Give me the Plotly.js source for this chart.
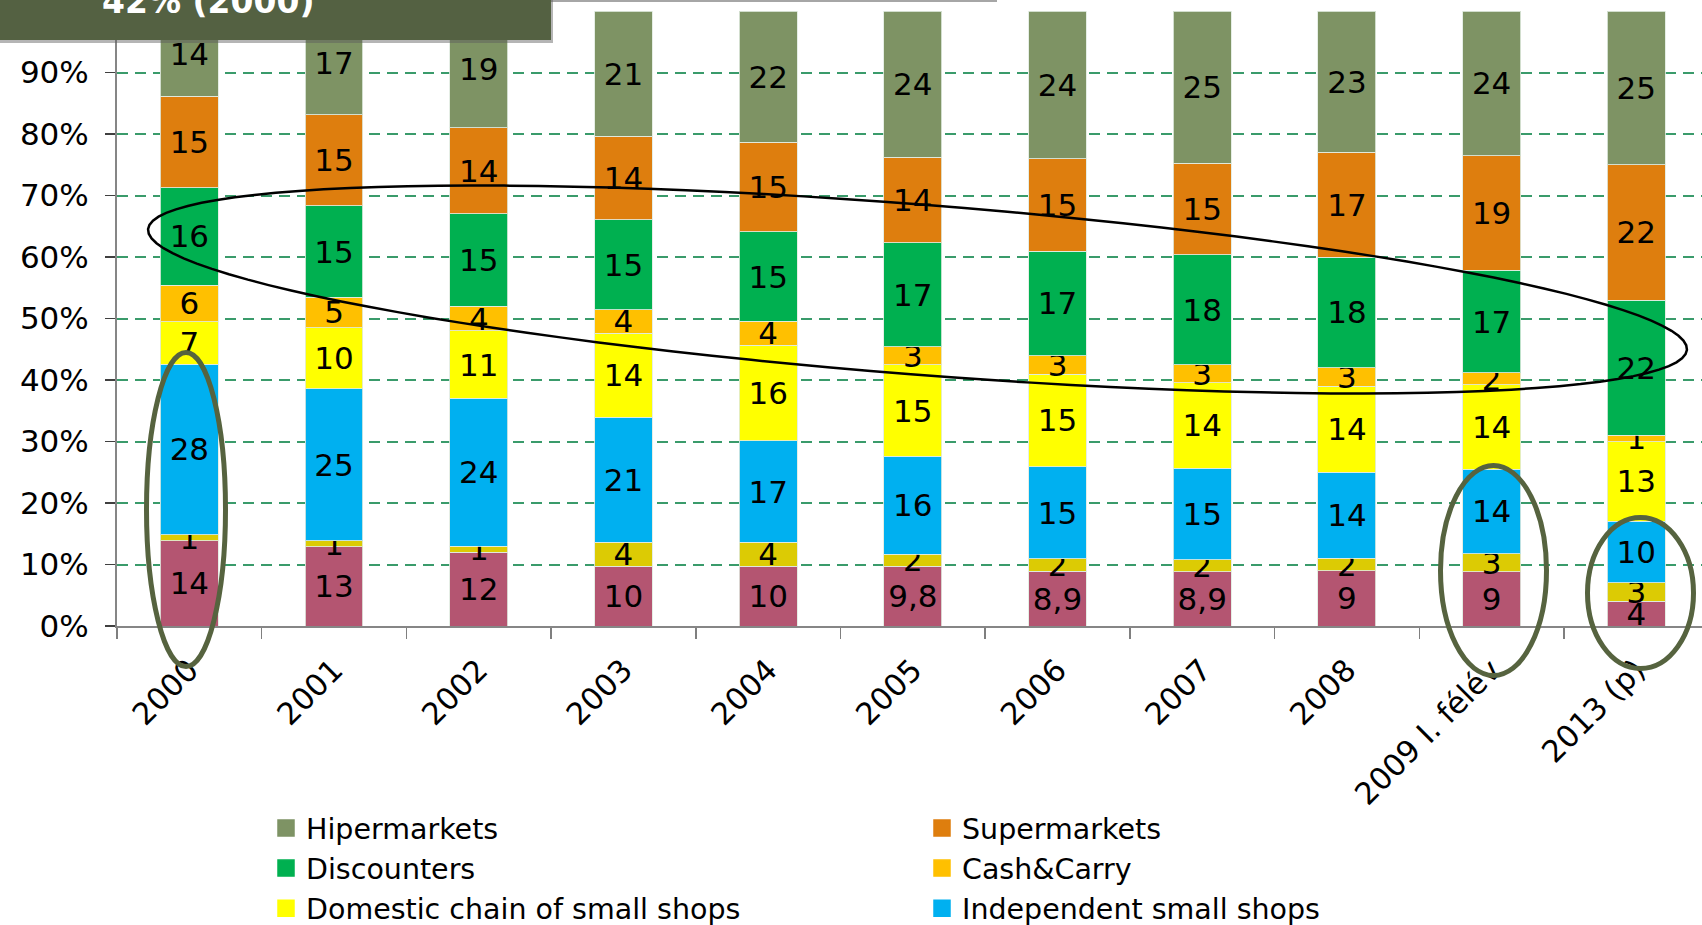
<!DOCTYPE html>
<html>
<head>
<meta charset="utf-8">
<script src="https://cdn.plot.ly/plotly-3.0.1.min.js"></script>
<style>
  html, body { margin: 0; padding: 0; background: #ffffff; overflow: hidden; }
  #chart { width: 1702px; height: 925px; }
</style>
</head>
<body>
<div id="chart"></div>
<script>
// ---- data ----
const categories = ['2000', '2001', '2002', '2003', '2004', '2005', '2006', '2007', '2008', '2009 I. félév', '2013 (p)'];
const otherShops   = [14, 13, 12, 10, 10, 9.8, 8.9, 8.9, 9, 9, 4];      // maroon (bottom)
const drugstores   = [1, 1, 1, 4, 4, 2, 2, 2, 2, 3, 3];                 // dark yellow
const independent  = [28, 25, 24, 21, 17, 16, 15, 15, 14, 14, 10];
const domestic     = [7, 10, 11, 14, 16, 15, 15, 14, 14, 14, 13];
const cashCarry    = [6, 5, 4, 4, 4, 3, 3, 3, 3, 2, 1];
const discounters  = [16, 15, 15, 15, 15, 17, 17, 18, 18, 17, 22];
const supermarkets = [15, 15, 14, 14, 15, 14, 15, 15, 17, 19, 22];
const hipermarkets = [14, 17, 19, 21, 22, 24, 24, 25, 23, 24, 25];
const yTickVals = [0, 10, 20, 30, 40, 50, 60, 70, 80, 90, 100];

// ---- styling ----
const FONT = '"DejaVu Sans", Lato, sans-serif';
const L = 117, R = 1702, T = 11, B = 626;
const W = R - L, H = B - T;
const px = x => (x - L) / W;
const py = y => (B - y) / H;

const fmt = v => String(v).replace('.', ',');

// series definitions: name, values, colour, legend column, shown in the visible legend
const series = [
  ['Other', otherShops, '#B45571', 'legend2', false],
  ['Drugstores', drugstores, '#DCCB04', 'legend', false],
  ['Independent small shops', independent, '#00B0F0', 'legend2', true],
  ['Domestic chain of small shops', domestic, '#FFFF00', 'legend', true],
  ['Cash&Carry', cashCarry, '#FFC000', 'legend2', true],
  ['Discounters', discounters, '#00B050', 'legend', true],
  ['Supermarkets', supermarkets, '#DE7E0E', 'legend2', true],
  ['Hipermarkets', hipermarkets, '#7E9364', 'legend', true]
];

const bars = series.map(([name, values, color]) => ({
  type: 'bar',
  name: name,
  x: categories,
  y: values,
  text: values.map(fmt),
  textposition: 'inside',
  insidetextanchor: 'middle',
  textangle: 0,
  constraintext: 'none',
  textfont: { family: FONT, size: 31, color: '#000000' },
  insidetextfont: { family: FONT, size: 31, color: '#000000' },
  marker: { color: color, line: { color: 'rgba(225,235,225,0.85)', width: 1 } },
  showlegend: false,
  hoverinfo: 'x+y+name'
}));

// legend entries (larger square keys, like the reference)
const keys = series.filter(s => s[4]).map(([name, values, color, legendId]) => ({
  type: 'scatter',
  mode: 'markers',
  name: name,
  x: [null],
  y: [null],
  marker: { symbol: 'square', size: 16, color: color, line: { color: color, width: 1.5 } },
  legend: legendId,
  showlegend: true,
  hoverinfo: 'skip'
}));

const data = bars.concat(keys);

// tilted black ellipse around the middle band
function ellipsePath(cx, cy, a, b, deg) {
  const th = deg * Math.PI / 180;
  let d = '';
  for (let i = 0; i <= 120; i++) {
    const t = i / 120 * 2 * Math.PI;
    const X = cx + a * Math.cos(t) * Math.cos(th) - b * Math.sin(t) * Math.sin(th);
    const Y = cy + a * Math.cos(t) * Math.sin(th) + b * Math.sin(t) * Math.cos(th);
    d += (i === 0 ? 'M' : 'L') + px(X).toFixed(5) + ',' + py(Y).toFixed(5);
  }
  return d + 'Z';
}

const olive = '#56633F';
function ring(x0, x1, y0, y1) {
  return { type: 'circle', xref: 'paper', yref: 'paper', layer: 'above',
    x0: px(x0), x1: px(x1), y0: py(y1), y1: py(y0),
    line: { color: olive, width: 5 }, fillcolor: 'rgba(0,0,0,0)' };
}

const shapes = [
  ring(146.5, 225.5, 352.5, 666.5),
  ring(1440.5, 1546.5, 465.5, 675.5),
  ring(1587.5, 1693.5, 517.5, 668.5),
  { type: 'path', xref: 'paper', yref: 'paper', layer: 'above',
    path: ellipsePath(917.5, 289.5, 771.8, 85, 4.48),
    line: { color: '#000000', width: 2.5 } },
  // thin gray line at the top edge
  { type: 'line', xref: 'paper', yref: 'paper', layer: 'above',
    x0: px(548), x1: px(997), y0: py(1), y1: py(1),
    line: { color: '#A6A6A6', width: 2 } },
  // title box shadow + box
  { type: 'rect', xref: 'paper', yref: 'paper', layer: 'above',
    x0: px(-5), x1: px(553), y0: py(43), y1: py(-5),
    fillcolor: 'rgba(90,90,90,0.45)', line: { width: 0 } },
  { type: 'rect', xref: 'paper', yref: 'paper', layer: 'above',
    x0: px(-5), x1: px(551), y0: py(40), y1: py(-5),
    fillcolor: '#546142', line: { width: 0 } }
];

const annotations = [
  { xref: 'paper', yref: 'paper', x: px(208), y: py(2), xanchor: 'center', yanchor: 'middle',
    text: '<b>42% (2000)</b>', showarrow: false,
    font: { family: FONT, size: 33, color: '#FFFFFF' } }
];

const legendCommon = {
  orientation: 'v',
  traceorder: 'reversed',
  xref: 'paper', yref: 'paper',
  xanchor: 'left', yanchor: 'top',
  bgcolor: 'rgba(0,0,0,0)',
  borderwidth: 0,
  itemsizing: 'trace',
  font: { family: FONT, size: 28.5, color: '#000000' },
  tracegroupgap: 0
};

const layout = {
  width: 1702,
  height: 925,
  margin: { l: L, r: 0, t: T, b: 925 - B, autoexpand: false },
  paper_bgcolor: '#FFFFFF',
  plot_bgcolor: '#FFFFFF',
  barmode: 'stack',
  barnorm: 'percent',
  bargap: 0.6,
  showlegend: true,
  uniformtext: { mode: 'show', minsize: 31 },
  font: { family: FONT, size: 30, color: '#000000' },
  xaxis: {
    type: 'category',
    categoryorder: 'array',
    categoryarray: categories,
    range: [-0.5, 10.454],
    tickangle: -45,
    ticks: 'outside',
    tickson: 'boundaries',
    ticklen: 11,
    tickwidth: 1.5,
    tickcolor: '#7F7F7F',
    showline: true,
    linecolor: '#868686',
    linewidth: 2,
    showgrid: false,
    zeroline: false,
    ticklabelstandoff: 12,
    tickfont: { family: FONT, size: 30.5, color: '#000000' },
    fixedrange: true
  },
  yaxis: {
    range: [0, 100],
    tickvals: yTickVals,
    ticktext: yTickVals.map(v => v + '%'),
    ticks: 'outside',
    ticklen: 10,
    tickwidth: 1.5,
    tickcolor: '#404040',
    showline: true,
    linecolor: '#868686',
    linewidth: 2,
    showgrid: true,
    gridcolor: '#3A9B6B',
    gridwidth: 2,
    griddash: '11px,7px',
    zeroline: false,
    ticklabelstandoff: 10,
    tickfont: { family: FONT, size: 31, color: '#000000' },
    fixedrange: true
  },
  legend: Object.assign({}, legendCommon, { x: px(266), y: py(803) }),
  legend2: Object.assign({}, legendCommon, { x: px(922), y: py(803) }),
  shapes: shapes,
  annotations: annotations
};

Plotly.newPlot('chart', data, layout, { displayModeBar: false, staticPlot: true });
</script>
</body>
</html>
